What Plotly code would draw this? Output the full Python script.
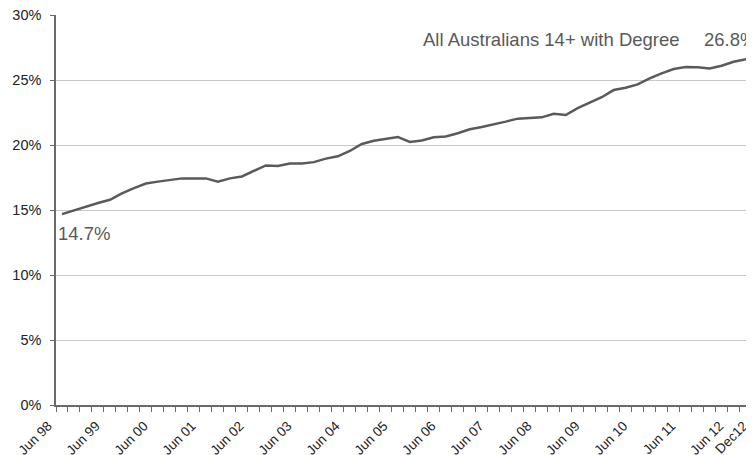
import plotly.graph_objects as go

# Quarterly share of Australians 14+ with a degree, Jun 98 .. Dec 12
quarters = list(range(59))
degree_pct = [
    14.7, 15.0, 15.3, 15.55, 15.8, 16.3, 16.7, 17.05, 17.2, 17.3,
    17.45, 17.45, 17.45, 17.2, 17.45, 17.6, 18.05, 18.45, 18.4, 18.6,
    18.6, 18.7, 18.97, 19.15, 19.56, 20.1, 20.35, 20.48, 20.64, 20.25,
    20.37, 20.62, 20.67, 20.92, 21.23, 21.41, 21.59, 21.82, 22.05, 22.1,
    22.15, 22.43, 22.33, 22.86, 23.3, 23.7, 24.25, 24.43, 24.69, 25.15,
    25.54, 25.87, 26.02, 26.0, 25.92, 26.12, 26.43, 26.6, 26.8,
]
tick_index = [0, 4, 8, 12, 16, 20, 24, 28, 32, 36, 40, 44, 48, 52, 56, 58]
tick_labels = ["Jun 98", "Jun 99", "Jun 00", "Jun 01", "Jun 02", "Jun 03", "Jun 04",
               "Jun 05", "Jun 06", "Jun 07", "Jun 08", "Jun 09", "Jun 10", "Jun 11",
               "Jun 12", "Dec12"]
y_ticks = [0, 5, 10, 15, 20, 25, 30]
series_name = "All Australians 14+ with Degree"

LINE = "#5a5a5a"
AXIS = "#6a6a6a"
GRID = "#c8c8c8"
TXT = "#595959"
FONT = "Liberation Sans, Arial, sans-serif"

x_range = [-0.5, 57.7]
y_range = [0, 30.03]

# tick marks at every category boundary; labels on the boundaries of labelled quarters
label_at = dict(zip(tick_index, tick_labels))
boundaries = [q - 0.5 for q in quarters]
boundary_text = [label_at.get(q, "") for q in quarters]

fig = go.Figure()
fig.add_trace(go.Scatter(
    x=quarters, y=degree_pct, mode="lines",
    line=dict(color=LINE, width=2.5), hoverinfo="skip", showlegend=False,
))

fig.add_annotation(x=quarters[0], y=degree_pct[0], text=f"{degree_pct[0]}%",
                   xref="x", yref="y", showarrow=False, xanchor="left", yanchor="middle",
                   xshift=-6, yshift=-19, font=dict(family=FONT, size=18.5, color=TXT))
fig.add_annotation(x=1, y=28.15, text=f"{degree_pct[-1]}%",
                   xref="paper", yref="y", showarrow=False, xanchor="right", yanchor="middle",
                   xshift=4, font=dict(family=FONT, size=18.5, color=TXT))
fig.add_annotation(x=1, y=28.15, text=series_name,
                   xref="paper", yref="y", showarrow=False, xanchor="right", yanchor="middle",
                   xshift=-72, font=dict(family=FONT, size=18.5, color=TXT))

# the page body has an 8px margin, so the figure is drawn 8px smaller
fig.update_layout(
    width=746, height=447,
    margin=dict(l=48, r=0, t=7, b=50),
    paper_bgcolor="white", plot_bgcolor="white",
    font=dict(family=FONT, size=14, color="#222222"),
    xaxis=dict(
        range=x_range, tickmode="array",
        tickvals=boundaries, ticktext=boundary_text,
        tickangle=-45, ticks="outside", ticklen=5, tickcolor=AXIS, tickwidth=1.2,
        ticklabelshift=-8, ticklabelstandoff=1, ticklabeloverflow="allow",
        automargin=False, showgrid=False, zeroline=False,
        showline=True, linecolor=AXIS, linewidth=1.5,
        tickfont=dict(family=FONT, size=13.5, color="#222222"),
    ),
    yaxis=dict(
        range=y_range, tickmode="array", tickvals=y_ticks,
        ticktext=[f"{v}%" for v in y_ticks], automargin=False,
        ticks="outside", ticklen=4, tickcolor=AXIS, ticklabelstandoff=6,
        ticklabeloverflow="allow",
        showgrid=True, gridcolor=GRID, gridwidth=1, zeroline=False,
        showline=True, linecolor=AXIS, linewidth=1.5,
        tickfont=dict(family=FONT, size=14.5, color="#222222"),
    ),
)

fig.write_html("out.html")
